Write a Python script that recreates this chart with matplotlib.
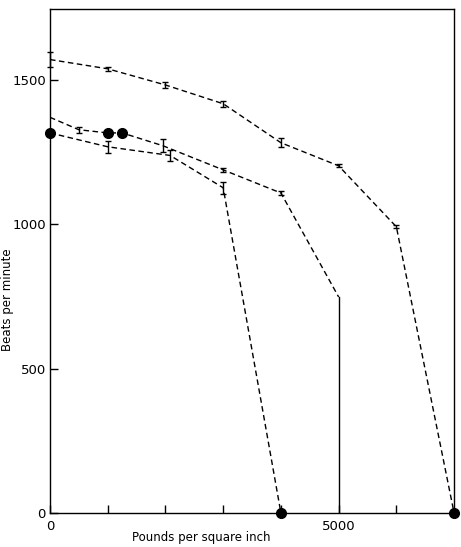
import matplotlib.pyplot as plt

# Datos (presión en lb/in², latidos por minuto)
presion_a = [0, 1000, 2000, 3000, 4000, 5000, 6000, 7000]
latidos_a = [1570, 1538, 1482, 1417, 1282, 1202, 991, 0]
error_a = [26, 7, 12, 10, 15, 5, 5, 0]

presion_b = [0, 500, 1000, 1250, 1950, 3000, 4000, 5000]
latidos_b = [1370, 1327, 1316, 1316, 1272, 1188, 1108, 748]
error_b = [0, 10, 0, 0, 22, 8, 8, 0]

presion_c = [0, 1000, 2080, 3000, 4000]
latidos_c = [1316, 1268, 1238, 1126, 0]
error_c = [0, 20, 18, 20, 0]

# puntos negros
puntos_x = [0, 1000, 1250, 4000, 7000]
puntos_y = [1316, 1316, 1316, 0, 0]

# caida vertical de la serie B
caida_x = [5000, 5000]
caida_y = [748, 0]

fig = plt.figure(figsize=(4.61, 5.47), dpi=100)
ax = fig.add_axes([0.1085, 0.0622, 0.8765, 0.9213])

estilo = dict(color='black', linestyle=(0, (4, 2.5)), linewidth=1.0)


def dibujar_serie(x, y, err):
    ax.plot(x, y, **estilo)
    for xi, yi, ei in zip(x, y, err):
        if ei > 0:
            barras = ax.errorbar(xi, yi, yerr=ei, fmt='none', ecolor='black',
                                 elinewidth=1.0, capsize=2.5, capthick=1.0)
            for parte in barras.lines[1] + barras.lines[2]:
                parte.set_clip_on(False)


dibujar_serie(presion_a, latidos_a, error_a)
dibujar_serie(presion_b, latidos_b, error_b)
dibujar_serie(presion_c, latidos_c, error_c)

ax.plot(caida_x, caida_y, color='black', linewidth=1.0)
ax.plot(puntos_x, puntos_y, 'o', color='black', markersize=7, clip_on=False, zorder=5)

ax.set_xlim(0, 7000)
ax.set_ylim(0, 1745)
ax.set_xticks([0, 1000, 2000, 3000, 4000, 5000, 6000])
ax.set_xticklabels(['0', '', '', '', '', '5000', ''])
ax.set_yticks([0, 500, 1000, 1500])
ax.set_yticklabels(['0', '500', '1000', '1500'])
ax.tick_params(direction='in', length=6, width=1.0, labelsize=9.5, pad=3)
ax.tick_params(axis='x', pad=5)

for lado in ax.spines.values():
    lado.set_linewidth(1.0)

# etiquetas de los ejes colocadas a mano para que no se corten
fig.text(201 / 461, 1 - 538 / 547, 'Pounds per square inch', fontsize=8.5,
         fontweight='medium', ha='center', va='center')
fig.text(8 / 461, 1 - 300 / 547, 'Beats per minute', fontsize=8.5,
         fontweight='medium', ha='center', va='center', rotation=90)

plt.savefig('out.png', dpi=100)
